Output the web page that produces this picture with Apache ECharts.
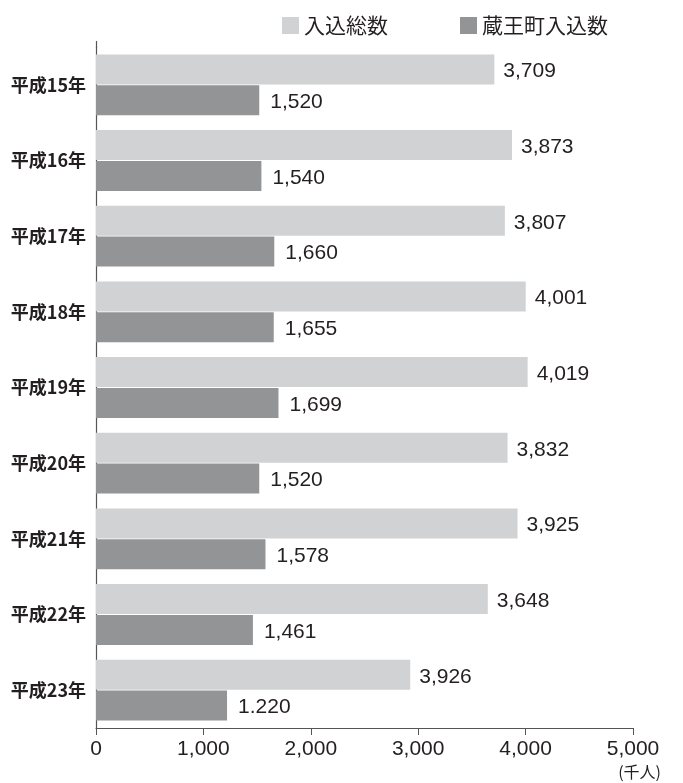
<!DOCTYPE html>
<html><head><meta charset="utf-8">
<script src="https://cdn.jsdelivr.net/npm/echarts@6/dist/echarts.min.js"></script>
<style>html,body{margin:0;padding:0;background:#fff}#c{width:683px;height:783px}</style>
</head><body><div id="c"></div>
<script>
const categories = ['平成15年','平成16年','平成17年','平成18年','平成19年','平成20年','平成21年','平成22年','平成23年'];
const totalVisitors = [3709, 3873, 3807, 4001, 4019, 3832, 3925, 3648, 2926];
const zaoVisitors = [1520, 1540, 1660, 1655, 1699, 1520, 1578, 1461, 1220];
const totalLabels = ['3,709','3,873','3,807','4,001','4,019','3,832','3,925','3,648','3,926'];
const zaoLabels = ['1,520','1,540','1,660','1,655','1,699','1,520','1,578','1,461','1.220'];
const xTicks = [0, 1000, 2000, 3000, 4000, 5000];
const seriesNames = ['入込総数', '蔵王町入込数'];
const unitText = '(千人)';

const chart = echarts.init(document.getElementById('c'), null, {renderer:'canvas'});
const txt = '#231f20';
const numFont = '"Liberation Sans", Arial, sans-serif';
const jpFont = '"Noto Sans CJK JP", sans-serif';
chart.setOption({
  animation: false,
  backgroundColor: '#fff',
  legend: {
    left: 277, top: 10,
    itemWidth: 17, itemHeight: 17, itemGap: 72,
    icon: 'rect',
    textStyle: {fontFamily: jpFont, fontSize: 21, color: txt, padding: [0,0,0,0]},
    data: seriesNames
  },
  title: {
    text: unitText, right: 17, top: 759,
    textStyle: {fontFamily: jpFont, fontSize: 16, fontWeight: 'normal', color: txt}
  },
  graphic: [{
    type: 'line', silent: true,
    shape: {x1: 96.5, y1: 41, x2: 96.5, y2: 48},
    style: {stroke: '#555', lineWidth: 1.2}
  }],
  grid: {left: 96, right: 50, top: 47, bottom: 55, containLabel: false},
  xAxis: {
    type: 'value', min: 0, max: 5000, interval: 1000,
    axisLine: {show: true, lineStyle: {color: '#555', width: 1.2}},
    axisTick: {show: true, length: 7, lineStyle: {color: '#555'}},
    splitLine: {show: false},
    axisLabel: {fontFamily: numFont, fontSize: 21, color: txt, margin: 11,
      formatter: v => xTicks.includes(v) ? v.toLocaleString('en-US') : ''}
  },
  yAxis: {
    type: 'category', data: categories, inverse: true,
    axisLine: {show: true, lineStyle: {color: '#555', width: 1.2}},
    axisTick: {show: false},
    axisLabel: {fontFamily: jpFont, fontSize: 18, fontWeight: 'bold', color: txt, margin: 10}
  },
  series: [
    {name: seriesNames[0], type: 'bar', data: totalVisitors, barWidth: 30, barGap: '3%',
     itemStyle: {color: '#d1d2d4'},
     label: {show: true, position: 'right', distance: 9, offset: [0, 2], fontFamily: numFont, fontSize: 21, color: txt,
       formatter: p => totalLabels[p.dataIndex]}},
    {name: seriesNames[1], type: 'bar', data: zaoVisitors, barWidth: 30,
     itemStyle: {color: '#939496'},
     label: {show: true, position: 'right', distance: 11, offset: [0, 2], fontFamily: numFont, fontSize: 21, color: txt,
       formatter: p => zaoLabels[p.dataIndex]}}
  ]
});
</script></body></html>
